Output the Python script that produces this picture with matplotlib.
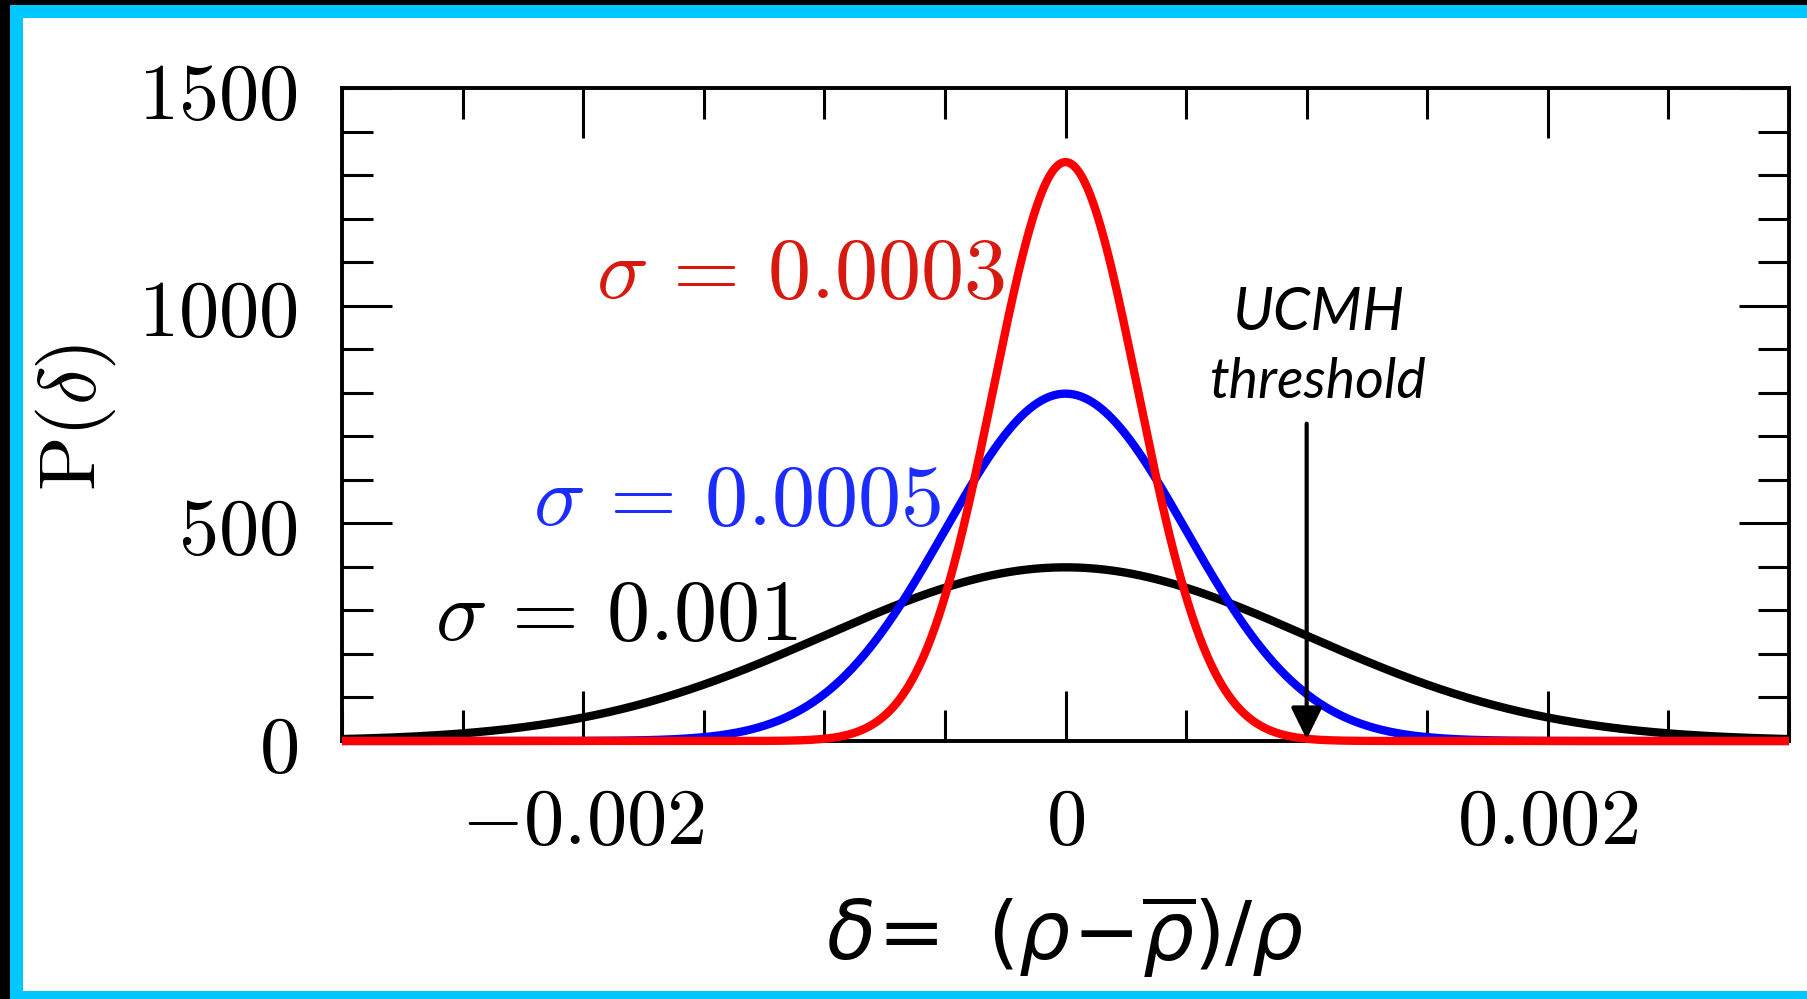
import numpy as np
import matplotlib
matplotlib.use('Agg')
import matplotlib.pyplot as plt
from matplotlib.patches import Rectangle
from matplotlib.ticker import MultipleLocator

plt.rcParams['mathtext.fontset'] = 'cm'

# curves: gaussian P(delta) for each sigma
sigmas = [0.001, 0.0005, 0.0003]
line_colors = ['black', 'blue', 'red']
label_texts = [r'$\sigma\,=\,0.001$', r'$\sigma\,=\,0.0005$', r'$\sigma\,=\,0.0003$']
label_colors = ['black', '#1c2cff', '#d7190f']
label_x = [-0.00111, -0.000514, -0.00025]
label_y = [232, 497, 1017]

xticks = [-0.002, 0, 0.002]
xticklabels = [r'$-0.002$', r'$0$', r'$0.002$']
yticks = [0, 500, 1000, 1500]
yticklabels = [r'$0$', r'$500$', r'$1000$', r'$1500$']

threshold = 0.001

W, H = 1807, 999
fig = plt.figure(figsize=(W / 100, H / 100), dpi=100)
fig.patch.set_facecolor('black')
# cyan frame + white inner panel
fig.patches.append(Rectangle((10 / W, 0), 1 - 10 / W, 1 - 5 / H, transform=fig.transFigure,
                             facecolor='#00c8ff', edgecolor='none', zorder=-2))
fig.patches.append(Rectangle((23 / W, 8 / H), 1 - 23 / W, 1 - 26 / H, transform=fig.transFigure,
                             facecolor='white', edgecolor='none', zorder=-1))

ax = fig.add_axes([342 / W, (H - 741) / H, (1789 - 342) / W, (741 - 88) / H])
ax.set_facecolor('none')

delta = np.linspace(-0.003, 0.003, 1501)
for s, c in zip(sigmas, line_colors):
    P = np.exp(-delta**2 / (2 * s**2)) / (np.sqrt(2 * np.pi) * s)
    ax.plot(delta, P, color=c, lw=6, zorder=3, clip_on=False, solid_capstyle='butt')

for t, c, x, y in zip(label_texts, label_colors, label_x, label_y):
    ax.text(x, y, t, color=c, fontsize=62, ha='right', va='baseline')

ax.text(0.00105, 945, 'UCMH', fontsize=43, family='Lato', style='italic', ha='center', va='baseline')
ax.text(0.00105, 787, 'threshold', fontsize=40, family='Lato', style='italic', ha='center', va='baseline')
ax.annotate('', xy=(threshold, 4), xytext=(threshold, 729),
            arrowprops=dict(arrowstyle='-|>,head_length=0.65,head_width=0.32', lw=3, color='black',
                            shrinkA=0, shrinkB=0, mutation_scale=30), zorder=4)

ax.set_xlim(-0.003, 0.003)
ax.set_ylim(0, 1500)
ax.set_xticks(xticks, labels=xticklabels)
ax.set_yticks(yticks, labels=yticklabels)
ax.xaxis.set_minor_locator(MultipleLocator(0.0005))
ax.yaxis.set_minor_locator(MultipleLocator(100))
ax.tick_params(which='both', direction='in', top=True, right=True, width=2.2, labelsize=58)
ax.tick_params(which='major', length=36)
ax.tick_params(which='minor', length=22)
ax.tick_params(axis='x', pad=30)
ax.tick_params(axis='y', pad=32)
for sp in ax.spines.values():
    sp.set_linewidth(2.8)

ax.text(0.5, -0.336, r'$\delta\!=\ (\rho\!-\!\overline{\rho})/\rho$', transform=ax.transAxes,
        fontsize=58, ha='center', va='baseline', math_fontfamily='dejavusans')
ax.text(-0.184, 0.496, r'$\mathrm{P}(\delta)$', transform=ax.transAxes, fontsize=58,
        rotation=90, ha='center', va='center')

fig.savefig('out.png', dpi=100, facecolor=fig.get_facecolor())
